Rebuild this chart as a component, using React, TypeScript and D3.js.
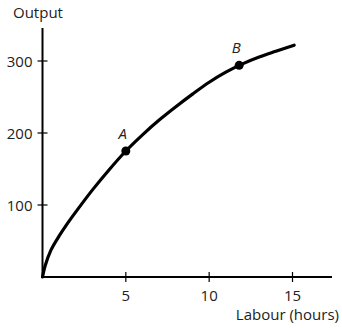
import React from "react";
import * as d3 from "d3";

const labour = [0, 0.15, 0.5, 1, 1.5, 2, 3, 4, 5, 6, 7, 8, 9, 10, 11, 12, 13, 14, 15.1];
const output = [0, 15, 37, 57, 74.5, 90.5, 121, 149, 175, 197.5, 218, 236.5, 254, 270.5, 284.5, 296, 305.5, 313.5, 322];

const xTicks = [5, 10, 15];
const yTicks = [100, 200, 300];

const points = [
  { name: "A", x: 5, y: 175 },
  { name: "B", x: 11.8, y: 294 },
];

const W = 342;
const H = 328;

export default function App() {
  const x = d3.scaleLinear().domain([0, 15]).range([42.5, 292.5]);
  const y = d3.scaleLinear().domain([0, 300]).range([277, 61]);
  const data = labour.map((l, i) => [l, output[i]] as [number, number]);
  const line = d3
    .line<[number, number]>()
    .x((d) => x(d[0]))
    .y((d) => y(d[1]))
    .curve(d3.curveCatmullRom.alpha(0.5));

  const font = "'Open Sans', Lato, sans-serif";
  const fs = 15;
  const x0 = x(0);
  const y0 = y(0);

  return (
    <svg
      width={W}
      height={H}
      style={{ position: "absolute", left: 0, top: 0, background: "#fff" }}
      fontFamily={font}
    >
      <line x1={x0} y1={y0} x2={332} y2={y0} stroke="#000" strokeWidth={2} />
      <line x1={x0} y1={y0} x2={x0} y2={28} stroke="#000" strokeWidth={2} />
      {xTicks.map((t) => (
        <g key={"x" + t}>
          <line x1={x(t)} x2={x(t)} y1={y0 - 5} y2={y0 + 5} stroke="#000" strokeWidth={1.2} />
          <text x={x(t)} y={301} textAnchor="middle" fontSize={fs} fill="#222">
            {t}
          </text>
        </g>
      ))}
      {yTicks.map((t) => (
        <g key={"y" + t}>
          <line x1={x0 - 5} x2={x0 + 5} y1={y(t)} y2={y(t)} stroke="#000" strokeWidth={1.2} />
          <text x={32.5} y={y(t) + 5.5} textAnchor="end" fontSize={fs} fill="#222">
            {t}
          </text>
        </g>
      ))}
      <text x={13} y={18} fontSize={fs} fill="#222">
        Output
      </text>
      <text x={339} y={320} textAnchor="end" fontSize={fs} fill="#222">
        Labour (hours)
      </text>
      <path d={line(data) || ""} fill="none" stroke="#000" strokeWidth={3.2} strokeLinecap="round" />
      {points.map((p) => (
        <g key={p.name}>
          <circle cx={x(p.x)} cy={y(p.y)} r={4.5} fill="#000" />
          <text
            x={x(p.x) - 3}
            y={y(p.y) - 12}
            textAnchor="middle"
            fontSize={fs}
            fontStyle="italic"
            fill="#222"
          >
            {p.name}
          </text>
        </g>
      ))}
    </svg>
  );
}
